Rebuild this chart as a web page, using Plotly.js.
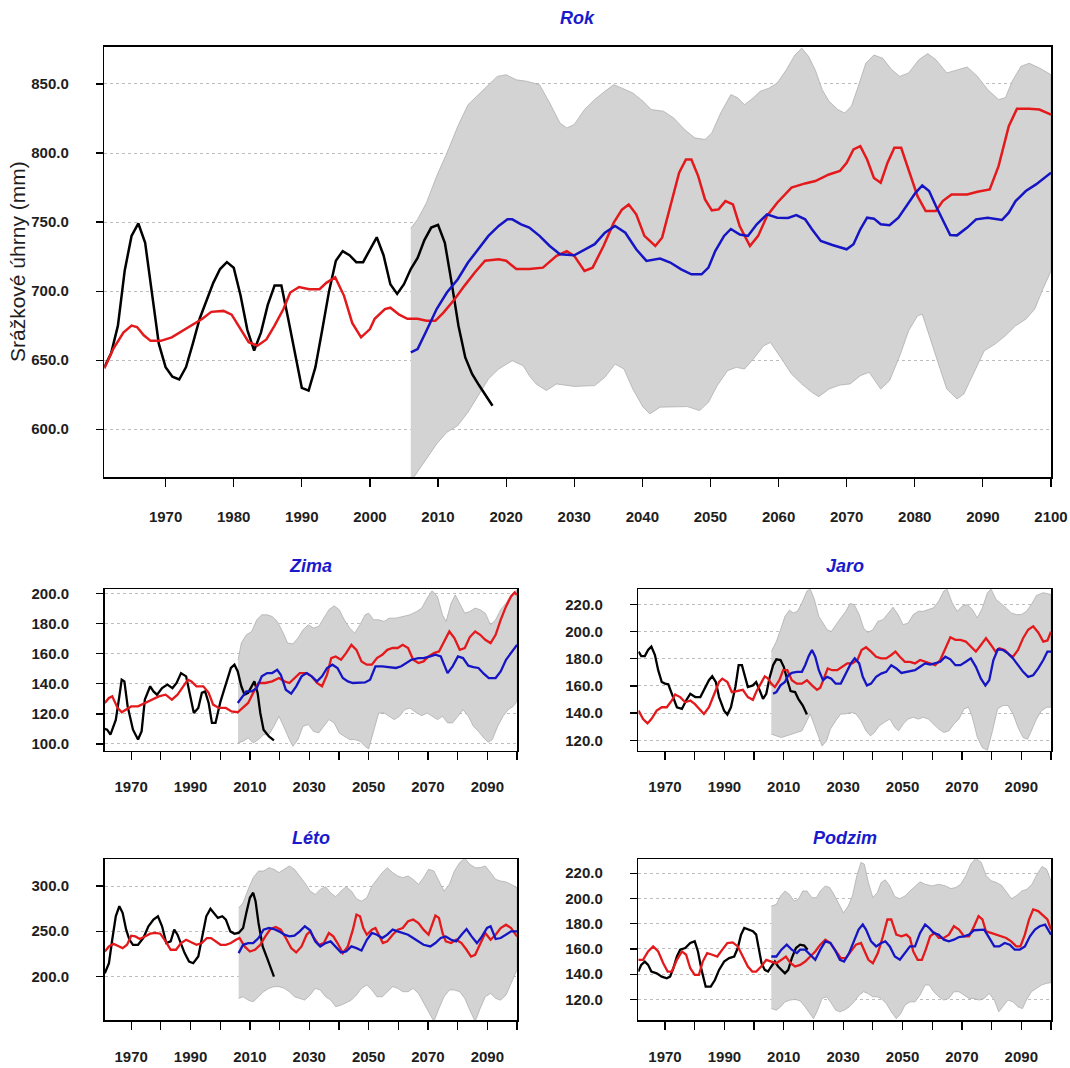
<!DOCTYPE html>
<html>
<head>
<meta charset="utf-8">
<script src="https://cdn.plot.ly/plotly-3.0.1.min.js"></script>
<style>html,body{margin:0;padding:0;background:#fff;}#chart{width:1070px;height:1068px;}</style>
</head>
<body>
<div id="chart"></div>
<script>
// ---------- Rok (annual) ----------
const rokObsX = [1961,1962,1963,1964,1965,1966,1967,1968,1969,1970,1971,1972,1973,1974,1975,1976,1977,1978,1979,1980,1981,1982,1983,1984,1985,1986,1987,1988,1989,1990,1991,1992,1993,1994,1995,1996,1997,1998,1999,2000,2001,2002,2003,2004,2005,2006,2007,2008,2009,2010,2011,2012,2013,2014,2015,2016,2017,2018];
const rokObsY = [645,655,675,715,740,749,735,700,662,645,638,636,645,662,680,693,706,716,721,717,697,672,657,670,690,704,704,680,655,630,628,645,672,700,722,729,726,721,721,730,739,726,705,698,705,716,724,737,746,748,735,706,675,652,640,632,624,617];
const rokRedX = [1961,1962.3,1963.8,1965,1965.8,1966.8,1967.8,1969.3,1970.9,1972.4,1973.9,1975.4,1976.7,1978.5,1979.7,1981,1982.2,1983.5,1984.8,1986,1987.3,1988.3,1989.6,1991.1,1992.6,1993.6,1994.9,1996.2,1997.4,1998.7,2000,2000.7,2002.2,2003,2004.3,2005.5,2007,2008.3,2009.6,2010.8,2012.4,2013.9,2015.4,2016.9,2018.9,2020,2021.5,2023.4,2025.4,2027.4,2028.9,2030,2031.5,2032.7,2034.3,2035.8,2037,2038,2039.1,2040.3,2041.9,2042.9,2044.1,2045.4,2046.4,2047.2,2048.2,2049.2,2050.2,2051.2,2052.2,2053.3,2054.3,2055.8,2057,2058.3,2059.8,2061.9,2063.9,2065.4,2067.4,2069,2070,2071,2072,2073,2074,2075,2076,2077,2078,2079.1,2080.4,2081.6,2083.1,2084.1,2085.4,2087.7,2089.2,2091,2092.3,2093.8,2095,2096.8,2098.3,2100];
const rokRedY = [644,658,670,675,674,668,664,664,666.5,671,675,680,685,685.7,683,672.5,663,660.5,665,675,687,699,703,701.4,701.4,706,710,696.6,677,666.5,672.5,680,687,688,683,680,680,678.5,678.5,684.5,694,704,713.5,722,723,722,716,716,717,725.5,729,725.5,714.6,717,732.7,749.6,759,762.8,755.6,740,732.7,738.7,761.6,785.7,795.3,795.3,783.3,766.4,758.5,759.2,765.2,762.8,747,732.7,740,754.4,764,775,778,779.7,784.5,787,793,802.6,805,795.3,782,778.5,793,803.8,803.8,788,768.8,758,758,765.2,770,770,772,773.6,790.5,819.4,832,832,831.5,827.8];
const rokBlueX = [2006,2007,2008.3,2009.8,2011.3,2012.9,2014.4,2015.9,2017.4,2018.9,2020.2,2020.9,2022.2,2023.4,2024.9,2026.4,2027.9,2030,2031.5,2033,2034.5,2036,2037.5,2039.1,2040.6,2042.6,2044.1,2045.7,2047.2,2048.7,2049.7,2050.7,2052,2053,2054.3,2055.5,2056.8,2058.3,2059.8,2061.4,2062.6,2063.9,2064.9,2066.2,2067.9,2070,2071,2072,2073,2074,2075,2076.3,2077.6,2078.8,2080.1,2081.1,2082.1,2083.1,2084.2,2085.2,2086.2,2087.7,2089,2090.7,2092.8,2093.8,2094.8,2096.3,2097.8,2100];
const rokBlueY = [655.6,658,671.3,687,699,708.6,720.7,730.3,740,747.2,752,752,748.4,746,740,732.7,726.7,726,730.3,734,742.3,747.2,742.3,730.3,721.9,723.6,720.7,715.8,712.2,712.2,717,729,740,745,741,740,748.4,755.6,753.2,753,755,752,744.8,736.3,733.4,730.3,734,744.8,753.2,752.5,748.4,747.7,753.2,761.6,771.2,776.5,772.5,761.6,750.8,740.7,740.4,746,752,753.2,751.5,756.8,765.2,772.5,777.3,785.7];
const rokUpX = [2006,2007,2008.3,2009.8,2011.3,2012.9,2014.4,2015.9,2017.4,2018.7,2020,2021.5,2023,2024.9,2026.4,2027.9,2028.9,2030,2031.5,2033,2034.5,2035.8,2037,2038.6,2040.1,2041.3,2043.1,2044.6,2046.2,2047.7,2049.2,2050.2,2051.5,2053,2054,2055,2056.3,2057.3,2058.6,2059.8,2061.1,2062.4,2063.4,2064.4,2065.4,2066.4,2067.4,2068.7,2069.7,2070.7,2071.7,2072.8,2074,2075.3,2076.6,2077.8,2079.1,2080.6,2081.9,2083.1,2084.7,2086.2,2087.7,2089.2,2090.7,2092.3,2093.3,2094.3,2095.6,2096.8,2098.3,2100];
const rokUpY = [745.5,752,764,783.3,800,819.4,835,842.3,849.5,855.5,856.7,853,852,849.5,836.3,821.8,818.2,820.6,831.5,838.7,844.7,849.5,847,843.5,837.5,831.5,830.3,825.4,817,811,809.8,814.6,829,842.3,840,835,840,844.7,847,850.7,860,871,876,870,860,846,837.5,831.5,829,834,848.3,865,871,868.6,860.4,855.5,858,867.6,872,867.6,858,860.4,862.3,855.5,846,838.7,840,852,862.8,865,861.6,856.7];
const rokLoX = [2006,2007,2008.3,2009.8,2011.3,2012.9,2014.4,2015.9,2017.4,2018.9,2020.9,2022.5,2023.4,2024.4,2025.9,2027.4,2030,2033,2034.5,2036,2037.3,2038.6,2040.1,2041.1,2042.6,2044.6,2046.6,2048.4,2049.7,2051,2052.5,2053.8,2055,2056.3,2057.8,2058.8,2060.3,2061.9,2063.4,2064.9,2065.9,2067.4,2069,2070.5,2072,2073.3,2074.3,2075,2076.3,2077.8,2079.1,2080.4,2081.1,2082.1,2083.4,2084.7,2086.2,2087.2,2088.7,2090.2,2091.8,2093.3,2094.8,2096.3,2097.6,2098.8,2100];
const rokLoY = [562,569,578.6,589.4,597.8,602.7,612.3,624.3,636.4,643.6,649.6,646,638.8,632.8,628,632.8,631,631.6,637.6,647.2,643.6,629.1,616,611.1,616,616,616.4,613.5,619.5,631.6,642.4,644.8,643.6,650.8,660.4,662.8,652,640,632.8,626.7,623.6,629.1,632,632.8,638.8,641.2,634,629.1,635.2,653.2,671.3,682.1,683.3,668.9,648.4,629.1,621.9,625.5,641.2,656.8,661.7,667.7,674.9,679.7,686.9,701.4,714.6];

// ---------- Zima (winter) ----------
const zimaObsX = [1961,1961.9,1963,1964.8,1966,1966.8,1967.7,1968.8,1970.6,1972.3,1973.5,1974.6,1976.4,1977.5,1978.7,1980.4,1982.2,1983.9,1985.3,1986.8,1988.5,1989.7,1991.1,1992.6,1993.8,1994.9,1996.1,1997.2,1998.4,2000.1,2001.9,2003.6,2004.8,2005.9,2007.1,2008.2,2009.4,2010.6,2011.5,2012.6,2013.5,2014.6,2016.4,2018.1];
const zimaObsY = [110,109.5,106.2,116,131.7,142.8,141.7,125,109.5,103,108.4,129.5,138.4,135,132.8,137.2,139.5,137.2,140.6,147.2,145,134,120.6,124,134,135,127.3,114,114,128.4,140.6,150.6,152.8,148.3,138.4,132.8,134,138.4,141.7,134,120.6,109.5,105,102.4];
const zimaRedX = [1961.1,1962.5,1963.6,1965.4,1966.8,1968.3,1970,1972.3,1974.6,1977,1979.3,1981.6,1983.7,1985.6,1987.4,1989.1,1990.3,1992,1994.3,1996.1,1997.6,1999.5,2001.9,2003.8,2005.9,2007.7,2009.4,2011.1,2012.9,2015.2,2017.5,2019.8,2021.6,2023.3,2025,2026.8,2029.1,2030.8,2032.6,2034.3,2036,2037.4,2038.9,2040.7,2042.4,2044.2,2045.9,2047.6,2049.4,2051.1,2052.8,2054.6,2056.3,2058.1,2059.8,2061.5,2063.3,2065,2066.8,2068.5,2070.2,2072,2073.7,2075.4,2077.2,2078.9,2080.7,2082.4,2084.1,2085.9,2087.6,2089.3,2091.1,2092.8,2094.5,2096.3,2098,2099.2,2100];
const zimaRedY = [127.3,130.6,131.7,124,121.1,122.8,125,125,127.3,129.5,131.7,132.8,129.5,132.8,138.4,142.8,141.7,138.4,138.4,134,126.2,124,124,121.7,121.1,124,127.3,134,140.6,140.6,141.7,143.9,141.7,140.6,143.9,147.2,147.2,145,140.6,138.4,146.1,157.2,158.3,156.1,160.5,166,162.7,155,152.8,152.8,157.2,159.4,162.7,163.9,163.9,166,163.9,156.1,153.9,155,158.3,160.5,161.6,168.3,174.9,170.5,162.7,163.9,171.2,174.9,172.7,169.4,167.2,172.7,182.7,191.6,198.2,200.9,199.3];
const zimaBlueX = [2005.9,2007.7,2008.8,2010.6,2012.3,2014,2015.8,2017.5,2019.2,2020.4,2022.1,2023.9,2025.6,2027.4,2029.1,2030.8,2032.6,2034.3,2036,2037.8,2039.5,2041.3,2043,2044.7,2046.5,2048.8,2050.5,2052.3,2054.6,2056.9,2059.2,2061,2062.7,2064.4,2066.8,2068.5,2070.8,2072.5,2074.3,2075.4,2076.6,2078.3,2080.1,2081.8,2083.6,2085.3,2087,2088.8,2090.5,2092.8,2094.5,2096.3,2098,2100];
const zimaBlueY = [127.3,131.7,135,135,137.2,145,147.2,147.2,149.4,146.1,136.1,133.5,138.4,145,147.2,145,141.7,145,150.6,152.8,150.6,143.9,141.7,140.6,140.6,141,142.8,151.7,151.7,151.2,150.6,151.7,153.9,156.1,157.2,157.2,158.3,159.4,158.3,152.8,147.2,151.7,158.3,157.2,152.1,151.2,150.6,146.8,143.9,143.9,148.3,156.1,160.5,166];
const zimaUpX = [2006,2007.1,2008.8,2010.6,2012.3,2014,2015.8,2017.5,2019.2,2021,2022.7,2024.5,2026.2,2027.9,2029.7,2031.4,2033.2,2034.9,2036.6,2038.4,2040.1,2041.8,2043.6,2045.3,2047.1,2048.8,2050,2051.7,2053.4,2055.2,2056.9,2059.2,2061.5,2063.9,2066.2,2067.9,2069.7,2071.4,2073.2,2074.9,2076.1,2077.8,2079.2,2080.7,2082.4,2084.1,2085.9,2087.6,2089.3,2091.1,2092.8,2094.5,2096.3,2098,2100];
const zimaUpY = [156,167.2,172.7,174.9,182.7,186,186,184.9,181.6,174.9,167.2,166.7,170.5,176,179.4,177.2,178.3,183.8,189.4,192,189.4,182.7,177.2,173.8,179.4,186,187.1,182.7,182.7,181.6,183.8,183.8,184.9,186,188.2,190.5,197.1,202,198.2,186,181.6,193.8,199.3,193.8,187.1,188.2,190.5,189.4,187.1,179.4,182.7,189.4,193.8,199.3,202.7];
const zimaLoX = [2006,2007.7,2009.4,2011.1,2012.9,2014.6,2016.4,2018.1,2019.8,2021.6,2023.3,2024.5,2026.2,2027.9,2029.7,2031.4,2033.2,2034.9,2036.6,2038.4,2040.1,2041.8,2043.6,2045.3,2047.1,2048.8,2050,2051.7,2053.4,2055.2,2056.9,2058.6,2060.4,2062.1,2063.9,2066.2,2067.9,2069.7,2071.4,2073.2,2074.9,2076.6,2078.3,2080.1,2081.8,2083.6,2085.3,2087,2088.8,2090.3,2091.7,2093.5,2095.3,2097,2098.7,2100];
const zimaLoY = [100.7,101.8,104,100.7,102.9,106.2,106.2,111.8,118.4,110.6,102.9,98.4,102.9,111.8,112.9,108.4,107.3,111.8,116.2,114,107.3,105.1,102.9,102.9,101.8,98.4,96.7,109.5,120.6,120.6,118.4,116.2,118.4,122.8,123.9,120.6,118.8,120.6,118.4,116.2,118.4,114,114,118.4,122.8,118.4,111.8,108.4,104,101.1,102.9,111.8,118.4,122.8,125,128.4];

// ---------- Jaro (spring) ----------
const jaroObsX = [1961.1,1962,1963.2,1964.3,1965.4,1966.6,1967.7,1968.9,1970,1971.1,1972.5,1974,1975.7,1977.1,1978.5,1980.2,1981.9,1983.7,1984.8,1985.9,1987.1,1988.2,1989.9,1991,1992.2,1993.7,1994.8,1995.9,1997,1997.9,1999.6,2000.7,2001.9,2003,2004.1,2005.3,2006.4,2007.5,2008.9,2010,2011.2,2012.3,2013.8,2014.9,2016.4,2017.8];
const jaroObsY = [185.3,182,182,186.5,189,182.8,171.6,162.9,161.7,161.2,153,144.3,143.1,149.3,154.2,151.8,151.8,159.2,164.2,167.1,162.9,151.8,141.8,138.9,144.3,159.2,175.3,175.3,166.7,159.2,160.4,162.9,156.7,150.5,154.2,166.7,175.3,179.6,179.1,174.1,164.2,156.2,155.5,150.5,145.6,138.9];
const jaroRedX = [1961.1,1962.6,1964.1,1965.4,1967.2,1968.9,1970.6,1972.3,1973.4,1975.1,1976.8,1978.5,1980,1981.4,1983.1,1984.8,1986.5,1988.2,1989.3,1991,1992.5,1994.5,1996.2,1997.9,1999.6,2000.7,2002.4,2003.6,2004.7,2005.8,2007,2008.5,2009.8,2011.2,2012.7,2014.4,2016.1,2017.8,2019.5,2021.2,2022.3,2023.5,2024.8,2026.3,2028,2029.7,2031.4,2033.1,2034.8,2036.2,2037.7,2039.4,2041.1,2042.8,2044.5,2046.2,2047.6,2049.1,2050.8,2052.5,2054.2,2055.9,2057.6,2059.3,2061,2062.7,2064.4,2066.1,2067.8,2069.5,2071.3,2073,2074.7,2076.4,2078.1,2079.8,2081.3,2082.6,2084.4,2086.1,2087.2,2088.9,2090.6,2092.3,2094,2095.7,2097.4,2098.8,2100];
const jaroRedY = [141.8,135.6,132.4,135.6,141.8,144.3,144.3,149.3,153.7,151.8,148,149.3,146.8,143.1,139.4,144.3,154.2,162.9,165.4,162.9,155.5,156.7,157.2,151.8,149.8,155.5,161.7,167.1,165.4,161.7,159.2,164.2,171.6,171.6,164.2,161.7,161.7,164.2,160.4,157.2,158.7,165.4,172.9,171.6,171.6,174.1,176.6,176.6,179.1,186.5,188.5,185.3,181.5,180.3,180.3,182.8,185.3,181.5,177.8,177.8,176.6,179.1,177.8,176.1,175.3,179.1,187.7,195.9,194,194,192.7,189,185.3,190.2,195.2,190.2,185.3,187.7,186.5,182.8,181.5,186.5,195.2,201.4,203.9,199.4,192.7,193.5,200];
const jaroBlueX = [2006.4,2007.5,2008.9,2010.4,2011.5,2012.7,2014.4,2016.1,2017.2,2018.4,2019.5,2020.6,2021.8,2023.2,2024.6,2026,2027.5,2029.2,2030.9,2032.6,2033.9,2035.4,2036.6,2038,2039.4,2041.1,2042.8,2044.5,2046.2,2047.9,2049.6,2051.9,2054.2,2055.9,2057.6,2059.3,2061,2062.7,2064.4,2066.1,2067.8,2069.5,2071.3,2073,2074.7,2076.4,2077.9,2079.2,2080.6,2082.1,2083.8,2085.5,2087.2,2088.9,2090.6,2092.3,2094,2095.7,2097.4,2098.8,2100];
const jaroBlueY = [154.2,155.5,160.4,162.9,167.9,169.6,170.4,170.4,175.3,182,186.5,181.5,171.6,164.2,166.7,165.4,161.7,161.7,169.1,176.6,180.3,176.6,166.7,160.4,161.7,166.7,169.1,170.4,175.3,172.9,169.6,170.4,171.6,174.1,176.6,175.8,176.6,177.8,181.5,179.6,175.3,175.3,177.8,180.3,174.1,165.4,160.4,164.2,179.1,187,186.5,184,180.3,175.3,170.4,166.7,167.9,172.9,179.1,185.3,185.3];
const jaroUpX = [2005.8,2007.5,2008.9,2010.4,2011.9,2013.2,2014.6,2016.1,2017.8,2018.9,2020.3,2021.8,2023.2,2024.6,2026,2027.5,2029.2,2030.9,2032.3,2033.7,2035.4,2036.9,2038.3,2040,2041.7,2043.4,2045.1,2046.8,2048.5,2050.2,2051.9,2053.6,2055.3,2057,2058.7,2060.4,2062.2,2063.9,2065,2066.7,2068.4,2070.1,2071.8,2073.5,2075.2,2076.9,2078.6,2079.8,2081.5,2083.2,2084.9,2086.6,2088.3,2090,2091.7,2093.4,2095.1,2097.4,2100];
const jaroUpY = [185.3,192.7,201.4,211.3,215.8,213.8,215,221.2,229.9,231.5,223.7,211.3,206.4,201.4,200.1,205.1,210.1,215,220.7,220,212.6,202.6,199.4,201.4,207.6,208.8,213.8,218,212.6,205.1,206.4,212.6,215,215,216.3,217.5,222.5,229.9,231.5,221.2,215,218.8,220,216.3,210.1,217.5,228.7,231.5,223.7,220.7,217.5,213.8,212.6,212.6,215,220,226.7,228.7,227.4];
const jaroLoX = [2005.8,2007.5,2009.2,2011,2012.7,2014.4,2016.1,2017.8,2018.9,2020.3,2021.8,2022.9,2024.4,2025.7,2027.5,2029.2,2030.9,2032.6,2034.3,2036,2037.7,2039.2,2040.5,2042.2,2043.9,2045.7,2047.4,2048.7,2050.2,2051.9,2053.6,2055.3,2057,2058.7,2060.4,2062.2,2063.9,2065.6,2067.3,2069,2070.7,2072.2,2073.5,2075.2,2076.9,2078.6,2080.3,2082,2083.8,2085.5,2087.2,2088.9,2090.6,2092.1,2093.4,2095.1,2096.8,2098.6,2100];
const jaroLoY = [124.5,123.2,122,123.2,124.5,125.7,126.9,134.4,139.4,131.9,122,115.8,119.5,128.2,134.4,139.4,139.4,140.6,139.4,134.4,126.9,123.2,125.7,130.7,133.2,135.6,129.4,126.9,131.9,135.6,136.9,135.6,136.9,135.6,131.9,128.2,125.7,126.9,131.9,135.6,143.1,144.3,136.9,122,114.5,112.6,126.9,143.1,145.6,145.6,139.4,129.4,122,120.7,126.9,135.6,141.8,144.3,144.3];

// ---------- Léto (summer) ----------
const letoObsX = [1961.1,1962.5,1963.6,1964.8,1966,1967.1,1968.3,1969.4,1970.6,1972.3,1974.1,1975.8,1977.5,1979,1980.4,1981.8,1983.3,1984.5,1985.6,1986.8,1988,1989.5,1990.9,1992.6,1993.8,1995.3,1996.7,1997.8,1999.2,2000.7,2001.9,2003.4,2004.8,2006.2,2007.7,2008.8,2010,2011.1,2011.9,2012.9,2014.3,2015.8,2016.9,2018.1];
const letoObsY = [203.3,214.5,240.5,266.5,277.7,270.3,251.7,240.5,234.9,234.9,242.4,255.4,262.8,266.5,255.4,236.8,238.7,251.7,246.1,236.8,225.7,216.4,214.5,221.9,240.5,266.5,274.7,270.3,264.7,266.5,262.8,249.8,247.2,248,253.5,270.3,287,292.6,283.3,259.1,233.1,220.1,210.8,199.6];
const letoRedX = [1961.1,1962.5,1964,1965.4,1967.1,1968.6,1970,1971.4,1972.9,1974.6,1976.4,1978.1,1979.8,1981.6,1983.3,1985.1,1986.8,1988.5,1990.3,1992,1993.8,1995.5,1996.9,1998.4,2000.1,2001.9,2003.6,2005.3,2006.5,2008.2,2010,2011.7,2013.5,2015.2,2016.9,2018.7,2020.4,2022.1,2023.9,2025.6,2027.4,2029.1,2030.3,2031.6,2033.2,2034.9,2036.6,2038.1,2039.5,2041.3,2043,2044.7,2045.9,2047.1,2048.2,2049.4,2051.1,2052.3,2053.4,2054.8,2056.3,2058.1,2059.8,2061.5,2063.3,2065,2066.8,2068.5,2070.2,2071.4,2072.5,2073.7,2074.9,2076,2077.8,2079.5,2081.3,2083,2084.5,2085.9,2087.6,2089.3,2091.1,2092.8,2094.5,2096.3,2098,2100];
const letoRedY = [227.5,233.1,236.1,233.8,231.2,234.9,245,244.2,241.3,244.2,247.2,248,247.2,238.7,229.4,229.4,236.8,240.5,237.5,234.9,236.8,242.4,242.4,238.7,234.9,234.9,236.8,240.5,242.4,233.1,227.5,229.4,234.9,244.2,252.4,254.6,251.7,242.4,231.2,226.4,233.1,246.1,249.8,242.4,234.9,236.8,248,244.2,236.8,225.7,233.1,251.7,268.4,266.5,253.5,246.1,251.7,253.5,246.1,236.8,238.7,246.1,251.7,253.5,261,262.8,258.9,251.7,246.1,257.2,267.3,264.7,248,238.7,236.8,240.5,236.8,229.4,221.9,223.8,236.8,248,240.5,246.1,253.5,257.2,253.5,244.2];
const letoBlueX = [2006.2,2007.7,2009.4,2011.1,2012.9,2014.6,2016.4,2018.1,2019.8,2021.6,2023.3,2025,2026.8,2028.5,2030.3,2032,2033.7,2035.5,2037.2,2038.9,2040.7,2042.4,2044.2,2045.9,2047.6,2049.4,2051.1,2052.8,2054.6,2056.3,2058.1,2059.8,2061.5,2063.3,2065,2066.8,2068.5,2070.8,2072.5,2074.3,2076,2077.8,2079.5,2081.3,2083,2084.7,2086.5,2088.2,2089.9,2091.1,2092.8,2094.5,2096.3,2098,2100];
const letoBlueY = [225.7,234.9,236.8,236.8,242.4,251.7,253.5,252.4,249.8,246.1,244.2,245,249.8,255.4,250.9,238.7,233.1,236.8,238.7,233.1,226.4,227.5,233.1,231.2,228.6,240.5,248,246.1,242.4,246.1,251.7,249.8,248,246.1,242.4,238.7,234.9,233.1,236.8,242.4,244.2,240.5,238.7,246.1,252.4,244.2,236.8,244.2,253.5,255.4,241.3,242.4,246.1,249.8,249.8];
const letoBandX = [2006.2,2007.7,2009.4,2011.1,2012.9,2014.6,2016.4,2018.1,2019.8,2021.6,2023.3,2025,2026.8,2028.5,2030.3,2032,2033.7,2035.5,2037.2,2038.9,2040.7,2042.4,2044.2,2045.9,2047.6,2049.4,2051.1,2052.8,2054.6,2056.3,2058.1,2059.8,2061.5,2063.3,2065,2066.8,2068.5,2070.2,2072,2073.7,2075.4,2077.2,2078.9,2080.7,2082.4,2084.1,2085.9,2087.6,2089.3,2091.1,2092.8,2094.5,2096.3,2098,2100];
const letoUpY = [275.8,281.4,296.3,309.3,316.7,316.7,320.4,318.6,314.9,318.6,322.3,318.6,311.2,303.7,294.4,290.7,296.3,299.3,292.6,288.1,294.4,299.3,294.4,285.9,283.3,287,300,307.4,314.9,320.4,314.9,311.2,309.3,311.2,307.4,301.9,309.3,318.6,316.7,305.6,294.4,301.9,316.7,326,331,324.2,320.4,320.4,322.3,314.9,307.4,305.6,304.5,301.9,298.1];
const letoLoY = [175.5,177.3,173.6,171.7,177.3,182.9,186.6,188.5,188.5,186.6,182.9,177.3,175.5,173.6,179.2,186.6,184.8,177.3,173.6,166.2,168,170.6,173.6,179.2,186.6,190.3,184.8,177.3,177.3,182.9,188.5,186.6,182.9,182.9,186.6,181,171.7,160.6,150,164.3,177.3,184.8,184.8,182.9,175.5,162.5,150,164.3,177.3,181,175.5,173.6,179.2,192.2,207.1];

// ---------- Podzim (autumn) ----------
const podzimObsX = [1961,1962,1963.2,1964.3,1965.4,1967.2,1968.9,1970.6,1971.7,1972.8,1974,1975.1,1976.8,1978.5,1980,1981.1,1982.3,1983.7,1985.4,1986.8,1988.2,1989.9,1991.6,1993.3,1994.5,1995.6,1996.7,1998.2,1999.6,2000.7,2001.6,2002.5,2003.6,2004.7,2005.8,2007,2008.1,2009.2,2010.4,2011.5,2012.7,2014.1,2015.5,2016.9,2018];
const podzimObsY = [142.1,147.4,150,147.4,142.1,140.7,138.1,136.8,138.1,144.7,154,159.4,160.7,164.7,166,158,143.4,130.1,130.1,135.4,143.4,150,152.7,154,160.7,171.3,176.6,175.3,174,171.3,159.4,148.7,143.4,142.1,146.1,150,146.1,143.4,140.7,143.4,152.7,160.7,163.4,162.6,159.4];
const podzimRedX = [1961,1962.6,1964.3,1966,1967.7,1969.4,1970.9,1972.3,1974,1975.7,1977.1,1978.5,1980,1981.4,1982.7,1984.2,1985.9,1987.6,1989.3,1991,1992.8,1994.5,1996.2,1997.9,1999.4,2000.7,2002.4,2004.1,2005.8,2007.5,2009.2,2010.7,2012.3,2013.8,2015.5,2017.2,2018.9,2020.6,2022.3,2024,2025.7,2027.5,2029.2,2030.9,2032.6,2034.3,2036,2037.1,2038.5,2040,2041.7,2043.4,2044.9,2046.2,2047.9,2049.6,2051.3,2052.5,2053.6,2055.1,2056.5,2057.8,2059.3,2060.8,2062.2,2063.9,2065.6,2067.3,2069,2070.7,2072.4,2074.1,2075.6,2076.9,2078.1,2079.8,2081.5,2083.2,2084.9,2086.6,2088.3,2089.7,2091.2,2092.6,2094,2095.7,2097.4,2098.8,2100];
const podzimRedY = [151.4,151.4,158,162,158,148.7,142.1,142.1,151.4,158,155.4,144.7,139.4,139.4,150,156.7,155.4,154,159.4,164.7,165.2,162,154,146.1,142.1,142.1,146.1,151.4,150,148.7,151.4,154,148.7,146.1,147.4,150,154,158,163.4,167.3,164.7,158,152.7,152.7,158,163.4,164.7,159.4,151.4,148.7,156.7,170,183.3,183.3,171.3,170,171.3,168.7,158,151.4,151.4,159.4,170,172.7,168.7,168.7,171.3,178,175.3,170,170,178,186,183.3,174,172.7,171.3,170,168.7,166,162,162,171.3,183.3,191.3,190,186,183.3,175.3];
const podzimBlueX = [2005.8,2007.5,2009.2,2011,2012.7,2014.4,2015.5,2017.2,2018.9,2020.6,2022.3,2024,2025.7,2027.5,2028.9,2030.3,2032,2033.7,2035.2,2036.6,2037.7,2039.4,2041.1,2042.8,2044.2,2045.7,2047.4,2049.1,2050.8,2052.5,2054.2,2055.9,2057.6,2059,2060.5,2062.2,2063.9,2065.6,2067.3,2069,2070.7,2072.4,2074.1,2075.8,2077.5,2079.2,2080.9,2082.6,2084.4,2086.1,2087.8,2089.5,2091.2,2092.9,2094.6,2096.2,2098,2100];
const podzimBlueY = [154,154,159.4,163.4,159.4,156.7,159.4,159.4,155.4,151.4,159.4,166,164.7,158,151.4,150,156.7,166,175.3,179.3,175.3,166,162,164.7,166,162,154,151.4,156.7,162,162,172.7,179.3,176.6,172.7,171.3,167.3,166,167.3,169.4,170,171.3,174.8,175.3,175.3,168.7,162,162,164.7,163.4,159.4,159.4,162,170,175.3,178,179.3,171.3];
const podzimUpX = [2005.8,2007.5,2008.9,2010.4,2011.9,2013.5,2014.9,2016.4,2017.8,2019.5,2021,2022.3,2024,2025.5,2026.9,2028.6,2030.1,2031.7,2033.1,2034.6,2036,2037.1,2038.5,2040,2041.5,2042.8,2044.2,2045.7,2047.4,2049.1,2050.8,2052.5,2054.2,2055.9,2057.6,2059.9,2062.2,2064.5,2066.2,2067.9,2069.6,2071.3,2073,2074.7,2076.5,2078.2,2079.9,2081.6,2083.3,2085,2086.7,2088.5,2090.2,2091.9,2093.6,2095.3,2097,2098.5,2100];
const podzimUpY = [193.9,195.3,201.9,205.9,203.2,197.9,199.3,205.9,205.9,200.6,200.6,205.9,209.9,208.6,203.2,195.3,188.6,193.9,201.9,217.9,228.5,227.2,212.6,200.6,204.6,212.6,214.7,209.9,201.4,199.8,201.9,205.9,209.4,213.1,211.2,209.9,211.2,209.9,207.8,208.6,211.2,217.9,227.2,232,228.5,217.9,213.9,212.6,210.4,204.6,199.8,202.4,205.9,207.2,211.2,219.2,225.3,223.2,213.9];
const podzimLoX = [2005.8,2007.5,2008.9,2010.4,2012.1,2013.8,2015.5,2017.2,2018.9,2020,2021.4,2022.9,2024.4,2025.7,2027.5,2028.9,2030.3,2032,2033.7,2035.4,2036.9,2038.3,2040,2041.5,2042.8,2044.5,2046.2,2047.9,2049.4,2050.8,2052.5,2054.2,2055.9,2057.6,2059,2060.5,2062.2,2063.9,2065.6,2067.3,2069,2070.7,2072.4,2074.1,2075.8,2077.5,2079.2,2080.9,2082.4,2083.8,2085.5,2087.2,2088.9,2090.4,2091.7,2093.4,2095.1,2096.8,2098.6,2100];
const podzimLoY = [112.8,111.5,114.1,118.1,119.5,120,118.9,114.1,108.8,104.8,111.5,120.8,122.1,118.1,111.5,110.2,111.5,114.1,118.1,123.5,126.1,124.8,122.1,122.1,120.8,116.8,110.2,104.8,108.8,115.5,118.1,118.1,123.5,131.4,131.4,126.1,122.1,119.5,120.8,126.1,126.1,123.5,120.8,120.8,119.5,120.8,124.8,119.5,110.2,114.1,119.5,118.1,114.1,112.8,119.5,126.1,128.8,131.4,132.8,133.3];

// ---------- tick labels ----------
const rokXTicks = [1970,1980,1990,2000,2010,2020,2030,2040,2050,2060,2070,2080,2090,2100];
const seasonXTicks = [1970,1980,1990,2000,2010,2020,2030,2040,2050,2060,2070,2080,2090,2100];
const seasonXLabels = ['1970','','1990','','2010','','2030','','2050','','2070','','2090',''];
const rokYTicks = [600,650,700,750,800,850];
const zimaYTicks = [100,120,140,160,180,200];
const jaroYTicks = [120,140,160,180,200,220];
const letoYTicks = [200,250,300];
const podzimYTicks = [120,140,160,180,200,220];
const panelTitles = ['Rok','Zima','Jaro','Léto','Podzim'];
const yTitle = 'Srážkové úhrny (mm)';

// ---------- styles ----------
const C_OBS = '#000000', C_RED = '#e3191c', C_BLUE = '#1515c4';
const BAND_FILL = '#d3d3d3', BAND_LINE = '#a8a8a8';
const FONT = 'Liberation Sans, Arial, sans-serif';

function band(ux, uy, lx, ly, ax) {
  return {x: ux.concat(lx.slice().reverse()), y: uy.concat(ly.slice().reverse()),
    xaxis: 'x'+ax, yaxis: 'y'+ax, mode: 'lines', fill: 'toself', fillcolor: BAND_FILL,
    line: {color: BAND_LINE, width: 0.7}, hoverinfo: 'skip', showlegend: false};
}
function line(x, y, color, ax, w) {
  return {x: x, y: y, xaxis: 'x'+ax, yaxis: 'y'+ax, mode: 'lines',
    line: {color: color, width: w, shape: 'linear'}, showlegend: false};
}
const traces = [];
function panel(ax, ux, uy, lx, ly, ox, oy, rx, ry, bx, by, w) {
  traces.push(band(ux, uy, lx, ly, ax));
  traces.push(line(ox, oy, C_OBS, ax, w));
  traces.push(line(rx, ry, C_RED, ax, w));
  traces.push(line(bx, by, C_BLUE, ax, w));
}
panel('', rokUpX, rokUpY, rokLoX, rokLoY, rokObsX, rokObsY, rokRedX, rokRedY, rokBlueX, rokBlueY, 2.5);
panel('2', zimaUpX, zimaUpY, zimaLoX, zimaLoY, zimaObsX, zimaObsY, zimaRedX, zimaRedY, zimaBlueX, zimaBlueY, 2.3);
panel('3', jaroUpX, jaroUpY, jaroLoX, jaroLoY, jaroObsX, jaroObsY, jaroRedX, jaroRedY, jaroBlueX, jaroBlueY, 2.3);
panel('4', letoBandX, letoUpY, letoBandX, letoLoY, letoObsX, letoObsY, letoRedX, letoRedY, letoBlueX, letoBlueY, 2.3);
panel('5', podzimUpX, podzimUpY, podzimLoX, podzimLoY, podzimObsX, podzimObsY, podzimRedX, podzimRedY, podzimBlueX, podzimBlueY, 2.3);

const W = 1070, H = 1068;
function px(a, b) { return [a / W, b / W]; }
function py(top, bottom) { return [1 - bottom / H, 1 - top / H]; }
const tickFont = {family: FONT, size: 15, weight: 'bold', color: '#1e1e1e'};

function xAxis(dom, tv, tt, standoff, anchor) {
  return {domain: dom, range: [1961, 2100], tickvals: tv, ticktext: tt, ticks: 'outside',
    ticklen: 8, tickwidth: 1.2, tickcolor: '#000', showline: true, linecolor: '#000', linewidth: 1.5,
    mirror: true, showgrid: false, zeroline: false, tickfont: tickFont, ticklabelstandoff: standoff,
    anchor: anchor, fixedrange: true};
}
function yAxis(dom, range, tv, anchor) {
  return {domain: dom, range: range, tickvals: tv, ticktext: tv.map(v => v.toFixed(1)), ticks: 'outside',
    ticklen: 7, tickwidth: 1.2, tickcolor: '#000', showline: true, linecolor: '#000', linewidth: 1.5,
    mirror: true, showgrid: true, gridcolor: '#bdbdbd', griddash: 'dot', gridwidth: 1, zeroline: false,
    tickfont: tickFont, ticklabelstandoff: 24, anchor: anchor, fixedrange: true};
}

const colL = px(104.5, 517), colR = px(638.3, 1051), colMain = px(104.3, 1051);
const rowMain = py(46.7, 477.3), rowMid = py(589.3, 750.7), rowBot = py(859, 1020.3);

const titleAnns = [
  [panelTitles[0], (104.3 + 1051) / 2, 18],
  [panelTitles[1], (104.5 + 517) / 2, 566],
  [panelTitles[2], (638.3 + 1051) / 2, 566],
  [panelTitles[3], (104.5 + 517) / 2, 838],
  [panelTitles[4], (638.3 + 1051) / 2, 838]
].map(a => ({text: a[0], x: a[1] / W, y: 1 - a[2] / H, xref: 'paper', yref: 'paper',
  xanchor: 'center', yanchor: 'middle', showarrow: false,
  font: {family: FONT, size: 18, weight: 'bold', style: 'italic', color: '#1a1acc'}}));
titleAnns.push({text: yTitle, x: 17 / W, y: 1 - 262 / H, xref: 'paper', yref: 'paper',
  xanchor: 'center', yanchor: 'middle', textangle: -90, showarrow: false,
  font: {family: FONT, size: 21, color: '#1e1e1e'}});

const layout = {
  width: W, height: H, margin: {l: 0, r: 0, t: 0, b: 0}, paper_bgcolor: '#fff', plot_bgcolor: '#fff',
  showlegend: false,
  xaxis: xAxis(colMain, rokXTicks, rokXTicks.map(String), 17, 'y'),
  yaxis: yAxis(rowMain, [565.2, 877], rokYTicks, 'x'),
  xaxis2: xAxis(colL, seasonXTicks, seasonXLabels, 14, 'y2'),
  yaxis2: yAxis(rowMid, [95.5, 203], zimaYTicks, 'x2'),
  xaxis3: xAxis(colR, seasonXTicks, seasonXLabels, 14, 'y3'),
  yaxis3: yAxis(rowMid, [112.3, 231.2], jaroYTicks, 'x3'),
  xaxis4: xAxis(colL, seasonXTicks, seasonXLabels, 14, 'y4'),
  yaxis4: yAxis(rowBot, [151.2, 330], letoYTicks, 'x4'),
  xaxis5: xAxis(colR, seasonXTicks, seasonXLabels, 14, 'y5'),
  yaxis5: yAxis(rowBot, [103.5, 231.2], podzimYTicks, 'x5'),
  annotations: titleAnns
};

Plotly.newPlot('chart', traces, layout, {staticPlot: true, displayModeBar: false});
</script>
</body>
</html>
